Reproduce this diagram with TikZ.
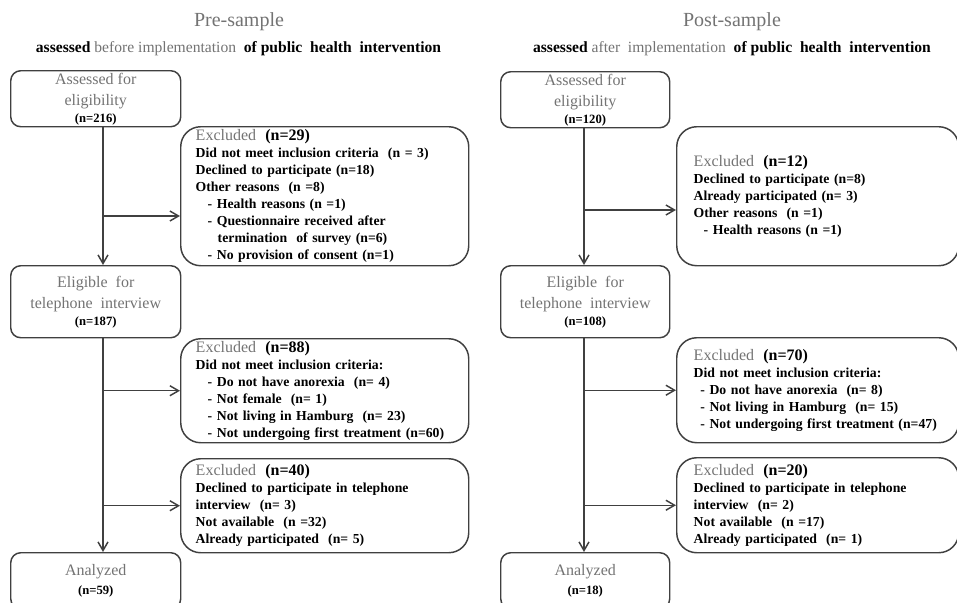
\documentclass[tikz,border=0pt]{standalone}
\usepackage{fontspec}
\setmainfont{Liberation Serif}
\usetikzlibrary{arrows.meta}

\definecolor{txtgray}{gray}{0.45}
\definecolor{linegray}{gray}{0.25}

\newcommand{\greytxt}[1]{\textcolor{txtgray}{\mdseries #1}}
\newcommand{\nsmall}[1]{{\fontsize{9.5}{12}\selectfont\bfseries\color{black}(n=#1)}}
\newcommand{\exhead}[1]{{\fontsize{12}{12.75}\selectfont\greytxt{Excluded}\ \ (n=#1)}}

\tikzset{
  titletxt/.style={font=\fontsize{15}{18}\selectfont, text=txtgray},
  subtxt/.style={font=\fontsize{11.7}{14}\selectfont\bfseries},
  flowbox/.style={draw=linegray, line width=1.1pt, rounded corners=7.5pt,
    anchor=north west, align=center, inner sep=0pt, text=txtgray,
    font=\fontsize{12}{15.75}\selectfont},
  exbox/.style={draw=linegray, line width=1.1pt, rounded corners=15pt,
    anchor=north west, align=left, inner ysep=0pt,
    font=\fontsize{10.3}{12.75}\selectfont\bfseries},
  flow/.style={draw=linegray, line width=1.1pt,
    -{Straight Barb[length=6.5pt,width=7.5pt]}},
}

\begin{document}
\begin{tikzpicture}[x=0.75pt, y=-0.75pt]
  \useasboundingbox (0,0) rectangle (957,603);
  \clip (0,0) rectangle (957,603);

  % pre-sample
  \node[titletxt] (preT) at (239,22) {Pre-sample};
  \node[subtxt] (preS) at (238.5,49) {assessed \greytxt{before implementation}\ \ of public\ \ health\ \ intervention};

  \node[flowbox, minimum width=127.5pt, minimum height=42pt] (assessL) at (10,70)
    {Assessed for\\eligibility\\[-3pt]\nsmall{216}};
  \node[flowbox, minimum width=127.5pt, minimum height=54pt] (eligL) at (10,265)
    {Eligible\ \ for\\telephone\ \ interview\\[-3pt]\nsmall{187}};
  \node[flowbox, minimum width=127.5pt, minimum height=42pt] (analL) at (10,552)
    {Analyzed\\[-1pt]\nsmall{59}};

  \node[exbox, minimum width=216pt, minimum height=104.25pt, text width=193.5pt, inner xsep=11.25pt] (excl1L) at (180,126) {%
    \exhead{29}\\
    Did not meet inclusion criteria\ \ (n = 3)\\
    Declined to participate (n=18)\\
    Other reasons\ \ (n =8)\\
    \hspace*{9pt}- Health reasons (n =1)\\
    \hspace*{9pt}- Questionnaire received after\\
    \hspace*{16.5pt}termination\ \ of survey (n=6)\\
    \hspace*{9pt}- No provision of consent (n=1)};
  \node[exbox, minimum width=216pt, minimum height=78pt, text width=193.5pt, inner xsep=10pt] (excl2L) at (180,338) {%
    \exhead{88}\\
    Did not meet inclusion criteria:\\
    \hspace*{9pt}- Do not have anorexia\ \ (n= 4)\\
    \hspace*{9pt}- Not female\ \ (n= 1)\\
    \hspace*{9pt}- Not living in Hamburg\ \ (n= 23)\\
    \hspace*{9pt}- Not undergoing first treatment (n=60)};
  \node[exbox, minimum width=216pt, minimum height=70.5pt, text width=193.5pt, inner xsep=10pt] (excl3L) at (180,458) {%
    \exhead{40}\\
    Declined to participate in telephone\\
    interview\ \ (n= 3)\\
    Not available\ \ (n =32)\\
    Already participated\ \ (n= 5)};

  \coordinate (spineL) at (103,0);
  \coordinate (b1L) at (103,216);
  \draw[flow] (assessL.south -| spineL) -- (eligL.north -| spineL);
  \draw[flow] (eligL.south -| spineL) -- (analL.north -| spineL);
  \draw[flow] (b1L) -- (b1L -| excl1L.west);
  \draw[flow] (spineL |- excl2L.west) -- (excl2L.west);
  \draw[flow] (spineL |- excl3L.west) -- (excl3L.west);

  % post-sample
  \node[titletxt] (postT) at (732,22) {Post-sample};
  \node[subtxt] (postS) at (732,49) {assessed \greytxt{after\ \ implementation}\ \ of public\ \ health\ \ intervention};

  \node[flowbox, minimum width=126.75pt, minimum height=42pt] (assessR) at (500,71)
    {Assessed for\\eligibility\\[-3pt]\nsmall{120}};
  \node[flowbox, minimum width=126.75pt, minimum height=54pt] (eligR) at (500,265)
    {Eligible\ \ for\\telephone\ \ interview\\[-3pt]\nsmall{108}};
  \node[flowbox, minimum width=126.75pt, minimum height=42pt] (analR) at (500,552)
    {Analyzed\\[-1pt]\nsmall{18}};

  \node[exbox, minimum width=211.5pt, minimum height=104.25pt, text width=186pt, inner xsep=12.75pt] (excl1R) at (676,126) {%
    \exhead{12}\\
    Declined to participate (n=8)\\
    Already participated (n= 3)\\
    Other reasons\ \ (n =1)\\
    \hspace*{7.5pt}- Health reasons (n =1)};
  \node[exbox, minimum width=211.5pt, minimum height=78.75pt, text width=186pt, inner xsep=12.75pt] (excl2R) at (676,337) {%
    \exhead{70}\\
    Did not meet inclusion criteria:\\
    \hspace*{5pt}- Do not have anorexia\ \ (n= 8)\\
    \hspace*{5pt}- Not living in Hamburg\ \ (n= 15)\\
    \hspace*{5pt}- Not undergoing first treatment (n=47)};
  \node[exbox, minimum width=211.5pt, minimum height=71.25pt, text width=186pt, inner xsep=12.75pt] (excl3R) at (676,457) {%
    \exhead{20}\\
    Declined to participate in telephone\\
    interview\ \ (n= 2)\\
    Not available\ \ (n =17)\\
    Already participated\ \ (n= 1)};

  \coordinate (spineR) at (584,0);
  \coordinate (b1R) at (584,210);
  \draw[flow] (assessR.south -| spineR) -- (eligR.north -| spineR);
  \draw[flow] (eligR.south -| spineR) -- (analR.north -| spineR);
  \draw[flow] (b1R) -- (b1R -| excl1R.west);
  \draw[flow] (spineR |- excl2R.west) -- (excl2R.west);
  \draw[flow] (spineR |- excl3R.west) -- (excl3R.west);
\end{tikzpicture}
\end{document}
